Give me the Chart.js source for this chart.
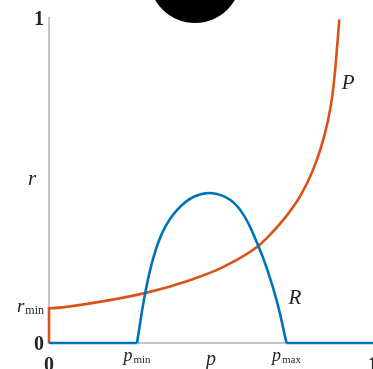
<!DOCTYPE html>
<html>
<head>
<meta charset="utf-8">
<script src="https://cdn.jsdelivr.net/npm/chart.js@4"></script>
<style>
html, body { margin: 0; padding: 0; background: #fff; overflow: hidden; }
#wrap { position: relative; width: 373px; height: 369px; }
#dot { position: absolute; left: 149px; top: -69px; width: 92px; height: 92px; border-radius: 50%; background: #000; }
</style>
</head>
<body>
<div id="wrap"><canvas id="chart" width="373" height="369"></canvas><div id="dot"></div></div>
<script>
// curve P (orange)
const pCurveX = [0, 0, 0.127, 0.302, 0.437, 0.540, 0.643, 0.684, 0.736, 0.777, 0.813, 0.839, 0.860, 0.875, 0.885, 0.896];
const pCurveY = [0, 0.107, 0.122, 0.155, 0.194, 0.235, 0.296, 0.335, 0.395, 0.455, 0.528, 0.600, 0.680, 0.765, 0.860, 0.996];

// curve R (blue)
const rCurveX = [0, 0.2715, 0.297, 0.323, 0.354, 0.395, 0.447, 0.504, 0.560, 0.602, 0.643, 0.674, 0.705, 0.733, 1];
const rCurveY = [0, 0, 0.154, 0.266, 0.348, 0.409, 0.450, 0.461, 0.440, 0.392, 0.306, 0.225, 0.122, 0, 0];

const xTicks = [0, 0.2715, 0.733, 1];
const xTickLabels = ["0", "p_min", "p_max", "1"];
const yTicks = [0, 0.107, 1];
const yTickLabels = ["0", "r_min", "1"];
const xTitle = "p";
const yTitle = "r";

const curveNames = ["P", "R"];
const curveNameX = [0.923, 0.759];
const curveNameY = [0.803, 0.142];

const ORANGE = "#D95319";
const BLUE = "#0072BD";

function pts(xs, ys, from, to) {
  let out = [];
  for (let i = from; i <= to; i++) out.push({ x: xs[i], y: ys[i] });
  return out;
}

function line(data, color, mode) {
  return {
    data: data,
    borderColor: color,
    borderWidth: 2.6,
    pointRadius: 0,
    showLine: true,
    fill: false,
    clip: false,
    cubicInterpolationMode: mode == "monotone" ? "monotone" : "default",
    tension: mode == "round" ? 0.4 : 0,
  };
}

// R is zero up to p_min (index 1) and after p_max
let rStart = 1, rEnd = rCurveX.length - 2;

function fontFor(s, size) {
  if (/^[0-9]+$/.test(s)) return "bold " + size + "px 'Liberation Serif'";
  return "italic " + size + "px 'Liberation Serif'";
}

function texWidth(ctx, label, size) {
  let parts = label.split("_");
  ctx.font = fontFor(parts[0], size);
  let w = ctx.measureText(parts[0]).width;
  if (parts[1]) {
    ctx.font = Math.round(size * 0.62) + "px 'Liberation Serif'";
    w += ctx.measureText(parts[1]).width + 1;
  }
  return w;
}

// draws "a_sub" style text
function drawTex(ctx, label, x, y, size, align) {
  let parts = label.split("_");
  let w = texWidth(ctx, label, size);
  let left = align == "center" ? x - w / 2 : align == "right" ? x - w : x;
  ctx.textAlign = "left";
  ctx.textBaseline = "alphabetic";
  ctx.font = fontFor(parts[0], size);
  ctx.fillText(parts[0], left, y);
  if (parts[1]) {
    let mw = ctx.measureText(parts[0]).width;
    ctx.font = Math.round(size * 0.62) + "px 'Liberation Serif'";
    ctx.fillText(parts[1], left + mw + 1, y + 2);
  }
}

const texLabels = {
  id: "texLabels",
  afterDraw(chart) {
    const { ctx, scales: { x, y } } = chart;
    ctx.save();
    ctx.fillStyle = "#262626";

    xTicks.forEach((v, i) => {
      let lab = xTickLabels[i];
      let isNum = /^[0-9]/.test(lab);
      drawTex(ctx, lab, x.getPixelForValue(v), y.bottom + (isNum ? 28 : 18), isNum ? 20 : 18, "center");
    });
    yTicks.forEach((v, i) => {
      let lab = yTickLabels[i];
      let isNum = /^[0-9]/.test(lab);
      drawTex(ctx, lab, x.left - 5, y.getPixelForValue(v) + (isNum ? 7 : 4), isNum ? 20 : 19, "right");
    });

    drawTex(ctx, xTitle, (x.left + x.right) / 2, y.bottom + 22, 20, "center");
    drawTex(ctx, yTitle, 32, (y.top + y.bottom) / 2 + 4, 21, "center");

    curveNames.forEach((n, i) => {
      drawTex(ctx, n, x.getPixelForValue(curveNameX[i]), y.getPixelForValue(curveNameY[i]) + 7, 21, "center");
    });
    ctx.restore();
  },
};

new Chart(document.getElementById("chart"), {
  type: "scatter",
  data: {
    datasets: [
      line(pts(rCurveX, rCurveY, 0, rStart), BLUE, "straight"),
      line(pts(rCurveX, rCurveY, rStart, rEnd), BLUE, "round"),
      line(pts(rCurveX, rCurveY, rEnd, rCurveX.length - 1), BLUE, "straight"),
      line(pts(pCurveX, pCurveY, 0, pCurveX.length - 1), ORANGE, "monotone"),
    ],
  },
  options: {
    responsive: false,
    animation: false,
    layout: { padding: { left: 49, top: 18, right: 0, bottom: 26 } },
    plugins: { legend: { display: false }, tooltip: { enabled: false } },
    scales: {
      x: {
        type: "linear", min: 0, max: 1,
        ticks: { display: false },
        grid: { display: false },
        border: { display: true, color: "#c4c4c4", width: 2 },
        afterFit: (s) => { s.height = 0; },
      },
      y: {
        type: "linear", min: 0, max: 1,
        ticks: { display: false },
        grid: { display: false },
        border: { display: true, color: "#c4c4c4", width: 2 },
        afterFit: (s) => { s.width = 0; },
      },
    },
  },
  plugins: [texLabels],
});
</script>
</body>
</html>
